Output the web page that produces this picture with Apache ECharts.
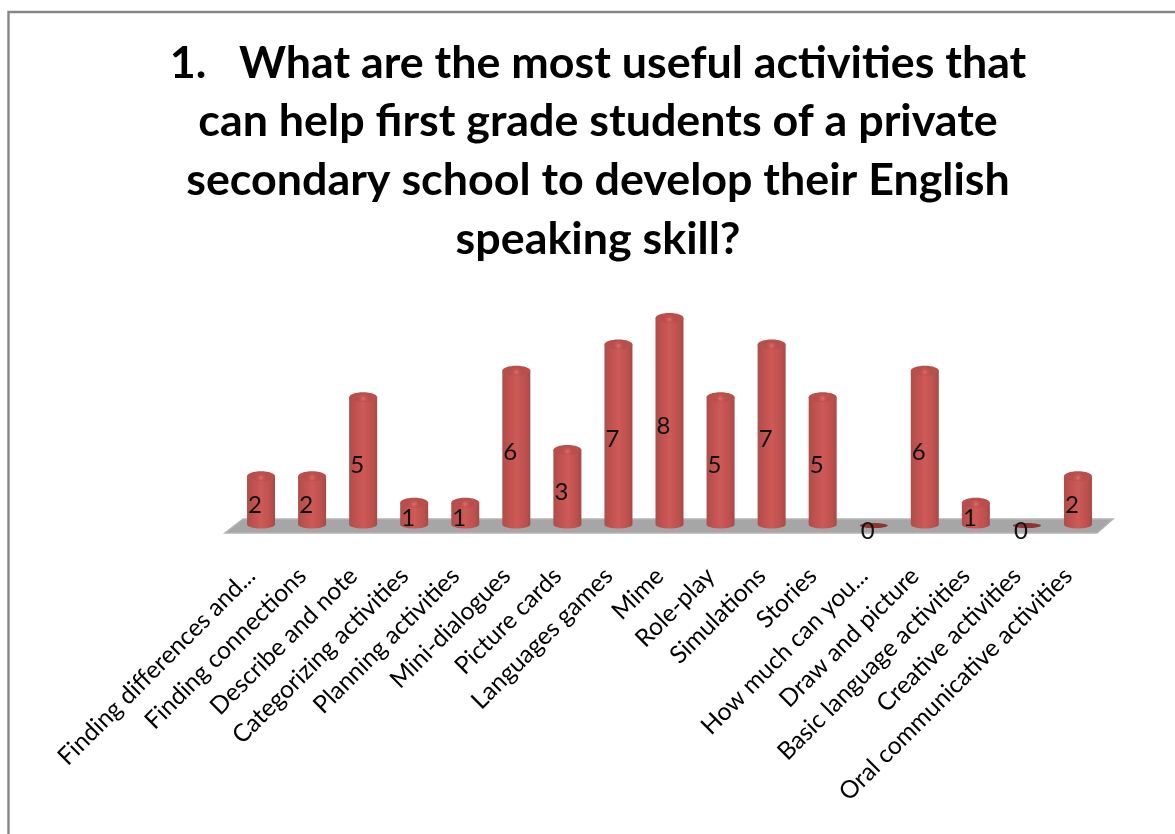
<!DOCTYPE html>
<html>
<head>
<meta charset="utf-8">
<style>html,body{margin:0;padding:0;background:#fff}#chart{width:1175px;height:834px}</style>
<script src="https://cdn.jsdelivr.net/npm/echarts@6/dist/echarts.min.js"></script>
</head>
<body>
<div id="chart"></div>
<script>
// Survey responses per classroom activity
const categories = [
  'Finding differences and...', 'Finding connections', 'Describe and note',
  'Categorizing activities', 'Planning activities', 'Mini-dialogues',
  'Picture cards', 'Languages games', 'Mime', 'Role-play', 'Simulations',
  'Stories', 'How much can you...', 'Draw and picture',
  'Basic language activities', 'Creative activities', 'Oral communicative activities'
];
const responses = [2, 2, 5, 1, 1, 6, 3, 7, 8, 5, 7, 5, 0, 6, 1, 0, 2];
const titleLines = [
  '1.   What are the most useful activities that',
  'can help first grade students of a private',
  'secondary school to develop their English',
  'speaking skill?'
];

const chart = echarts.init(document.getElementById('chart'));

const bodyFill = new echarts.graphic.LinearGradient(0, 0, 1, 0, [
  { offset: 0, color: '#a9504d' },
  { offset: 0.14, color: '#bb4f4c' },
  { offset: 0.5, color: '#cd5a57' },
  { offset: 0.86, color: '#bb4f4c' },
  { offset: 1, color: '#a34a47' }
]);
const capFill = new echarts.graphic.RadialGradient(0.5, 0.65, 0.55, [
  { offset: 0, color: '#dd6f6a' },
  { offset: 0.5, color: '#c65551' },
  { offset: 1, color: '#b84f4c' }
]);

// Cylinder: a straight body with elliptical base and a lit elliptical cap
function renderCylinder(params, api) {
  const value = api.value(1);
  const [cx, top] = api.coord([api.value(0), value]);
  const [, zero] = api.coord([api.value(0), 0]);
  const rx = 14;
  const ry = 5;
  const base = zero + 0.5;
  if (value === 0) {
    return {
      type: 'ellipse',
      shape: { cx, cy: zero + 1.5, rx, ry: 2.6 },
      style: { fill: '#8f3431' }
    };
  }
  const capY = top + ry;
  return {
    type: 'group',
    children: [
      {
        type: 'path',
        shape: {
          pathData: `M${cx - rx} ${capY} L${cx - rx} ${base} A${rx} ${ry - 1} 0 0 0 ${cx + rx} ${base} L${cx + rx} ${capY} Z`
        },
        style: { fill: bodyFill }
      },
      {
        type: 'ellipse',
        shape: { cx, cy: capY, rx, ry },
        style: { fill: capFill }
      }
    ]
  };
}

// Floor plane under the bars, placed relative to the plotting area
function renderFloor(params) {
  const r = params.coordSys;
  const y = r.y + r.height;
  const pts = [
    [r.x + 7.5, y - 5],
    [r.x + r.width + 9.5, y - 5],
    [r.x + r.width - 6.5, y + 9],
    [r.x - 10.5, y + 9]
  ];
  return {
    type: 'polygon',
    shape: { points: pts },
    style: { fill: '#a6a6a6', stroke: '#b4b4b4', lineWidth: 1.5 }
  };
}

chart.setOption({
  animation: false,
  backgroundColor: '#fff',
  graphic: [
    {
      // Chart frame: left and top edges run off the page on the other sides
      type: 'polyline',
      shape: { points: [[8.5, 834], [8.5, 12], [1175, 12]] },
      style: { fill: 'none', stroke: '#868686', lineWidth: 2.4 },
      silent: true
    }
  ],
  title: {
    text: titleLines.join('\n'),
    left: 593,
    top: 29,
    textAlign: 'center',
    textStyle: {
      fontFamily: 'Lato',
      fontWeight: 'bold',
      fontSize: 44.8,
      lineHeight: 58.7,
      color: '#000'
    }
  },
  grid: { left: 235.5, width: 868, top: 313, height: 211 },
  xAxis: {
    type: 'category',
    data: categories,
    axisLine: { show: false },
    axisTick: { show: false },
    axisLabel: {
      interval: 0,
      rotate: 45,
      margin: 38,
      padding: [0, 14, 0, 0],
      fontFamily: 'Lato',
      fontSize: 24.5,
      color: '#000'
    }
  },
  yAxis: { type: 'value', min: 0, max: 8, show: false },
  series: [
    {
      type: 'custom',
      coordinateSystem: 'cartesian2d',
      renderItem: renderFloor,
      data: [[0, 0]],
      silent: true,
      z: 1
    },
    {
      type: 'custom',
      coordinateSystem: 'cartesian2d',
      renderItem: renderCylinder,
      encode: { x: 0, y: 1 },
      data: responses.map((v, i) => [i, v]),
      z: 2
    },
    {
      // Value labels sit halfway up each cylinder, slightly left of centre
      type: 'custom',
      coordinateSystem: 'cartesian2d',
      renderItem(params, api) {
        const v = api.value(1);
        const [cx, top] = api.coord([api.value(0), v]);
        const [, zero] = api.coord([api.value(0), 0]);
        return {
          type: 'text',
          x: cx - 6,
          y: (top + zero) / 2 + 7.5,
          style: {
            text: String(v),
            fontFamily: 'Lato',
            fontSize: 24,
            fill: '#111',
            align: 'center',
            verticalAlign: 'middle'
          }
        };
      },
      data: responses.map((v, i) => [i, v]),
      z: 3
    }
  ]
});
</script>
</body>
</html>
